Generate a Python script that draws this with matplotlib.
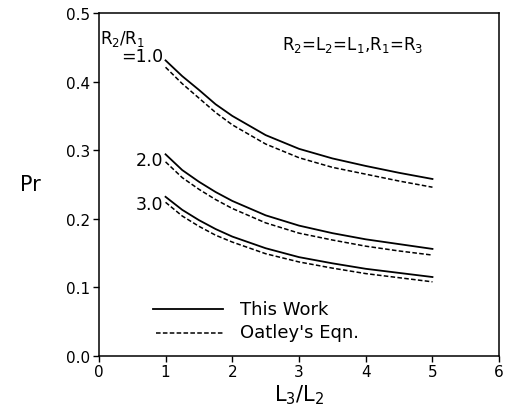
import matplotlib
matplotlib.use("Agg")
import matplotlib.pyplot as plt

# L3/L2 positions
x = [1.0, 1.25, 1.5, 1.75, 2.0, 2.5, 3.0, 3.5, 4.0, 4.5, 5.0]

# "This Work" (solid) and Oatley's equation (dashed) for each R2/R1
work_10 = [0.431, 0.408, 0.388, 0.367, 0.350, 0.322, 0.302, 0.288, 0.277, 0.267, 0.258]
oat_10 = [0.421, 0.397, 0.376, 0.355, 0.337, 0.309, 0.289, 0.275, 0.265, 0.255, 0.246]
work_20 = [0.294, 0.271, 0.254, 0.239, 0.226, 0.205, 0.190, 0.179, 0.170, 0.163, 0.156]
oat_20 = [0.283, 0.260, 0.243, 0.228, 0.215, 0.194, 0.179, 0.169, 0.160, 0.153, 0.147]
work_30 = [0.232, 0.213, 0.198, 0.185, 0.174, 0.157, 0.144, 0.135, 0.127, 0.121, 0.115]
oat_30 = [0.224, 0.204, 0.189, 0.176, 0.166, 0.149, 0.137, 0.128, 0.120, 0.114, 0.108]

xticks = [0, 1, 2, 3, 4, 5, 6]
yticks = [0.0, 0.1, 0.2, 0.3, 0.4, 0.5]

fig = plt.figure(figsize=(5.12, 4.14), dpi=100)
ax = fig.add_axes([0.193, 0.138, 0.782, 0.828])

for w, o in [(work_10, oat_10), (work_20, oat_20), (work_30, oat_30)]:
    ax.plot(x, w, color="black", lw=1.3)
    ax.plot(x, o, color="black", lw=1.1, ls=(0, (3, 1.5)))

ax.set_xlim(0, 6)
ax.set_ylim(0, 0.5)
ax.set_xticks(xticks)
ax.set_yticks(yticks)
ax.set_xticklabels([str(t) for t in xticks])
ax.set_yticklabels([f"{t:.1f}" for t in yticks])
ax.tick_params(direction="out", length=4, width=1, labelsize=11, pad=2)
for s in ax.spines.values():
    s.set_linewidth(1.1)

ax.set_xlabel("L$_3$/L$_2$", fontsize=15, labelpad=2)
ax.set_ylabel("Pr", fontsize=15, rotation=0, labelpad=26, va="center")

ax.text(0.02, 0.463, "R$_2$/R$_1$", fontsize=12, ha="left", va="center")
ax.text(0.97, 0.437, "=1.0", fontsize=12.5, ha="right", va="center")
ax.text(0.97, 0.286, "2.0", fontsize=12.5, ha="right", va="center")
ax.text(0.97, 0.221, "3.0", fontsize=12.5, ha="right", va="center")
ax.text(2.75, 0.455, "R$_2$=L$_2$=L$_1$,R$_1$=R$_3$", fontsize=12,
        ha="left", va="center")

# legend drawn by hand
ax.plot([0.81, 1.86], [0.068, 0.068], color="black", lw=1.3)
ax.plot([0.85, 1.86], [0.034, 0.034], color="black", lw=1.1, ls=(0, (3, 1.5)))
ax.text(2.12, 0.069, "This Work", fontsize=13, ha="left", va="center")
ax.text(2.12, 0.035, "Oatley's Eqn.", fontsize=13, ha="left", va="center")

fig.savefig("out.png", dpi=100)
